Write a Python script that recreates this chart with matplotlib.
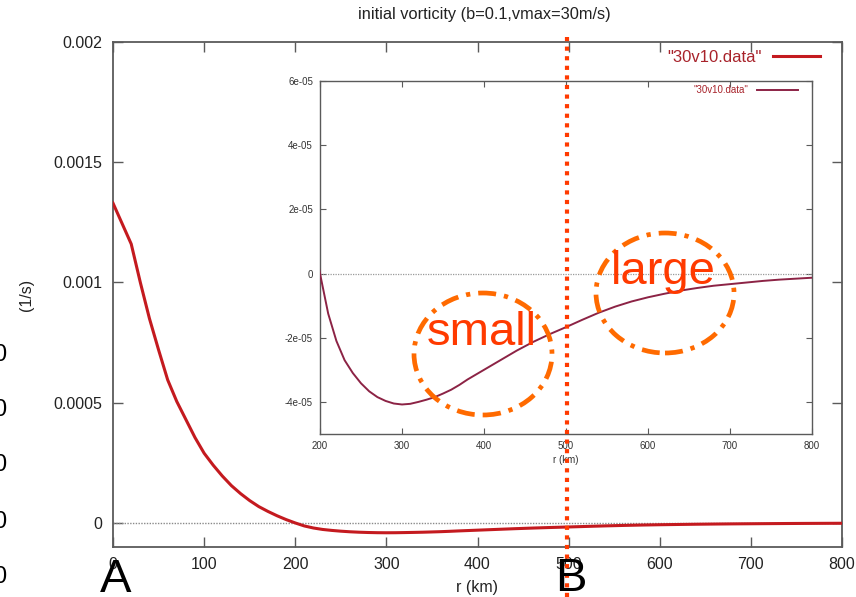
import matplotlib
matplotlib.use("Agg")
import matplotlib.pyplot as plt
import matplotlib.transforms as mtransforms
from matplotlib.lines import Line2D
from matplotlib.patches import Ellipse

plt.rcParams['font.family'] = ['Liberation Sans', 'DejaVu Sans']

# radial vorticity profile of the initial vortex (r in km, vorticity in 1/s)
r_km = [0, 20, 30, 40, 50, 60, 70, 80, 90, 100, 110, 120, 130, 140, 150, 160,
        170, 180, 190, 200, 210, 220, 230, 240, 250, 260, 270, 280, 290, 300,
        310, 320, 330, 340, 350, 360, 370, 380, 390, 400, 420, 440, 460, 480,
        500, 520, 540, 560, 580, 600, 620, 640, 660, 680, 700, 720, 740, 760,
        780, 800]
vort = [1.33e-3, 1.16e-3, 1.0e-3, 8.5e-4, 7.2e-4, 5.95e-4, 5.05e-4, 4.3e-4,
        3.55e-4, 2.9e-4, 2.4e-4, 1.95e-4, 1.55e-4, 1.22e-4, 9.3e-5, 6.8e-5,
        4.8e-5, 3.0e-5, 1.4e-5, 0.0, -1.25e-5, -2.1e-5, -2.7e-5, -3.1e-5,
        -3.42e-5, -3.67e-5, -3.85e-5, -3.97e-5, -4.05e-5, -4.08e-5, -4.06e-5,
        -4.0e-5, -3.93e-5, -3.85e-5, -3.74e-5, -3.62e-5, -3.47e-5, -3.3e-5,
        -3.15e-5, -3.0e-5, -2.7e-5, -2.4e-5, -2.13e-5, -1.89e-5, -1.67e-5,
        -1.44e-5, -1.22e-5, -1.03e-5, -8.7e-6, -7.4e-6, -6.3e-6, -5.3e-6,
        -4.5e-6, -3.8e-6, -3.3e-6, -2.8e-6, -2.3e-6, -1.9e-6, -1.6e-6, -1.3e-6]

main_xticks = [0, 100, 200, 300, 400, 500, 600, 700, 800]
main_yticks = [0, 0.0005, 0.001, 0.0015, 0.002]
main_ylabels = ["0", "0.0005", "0.001", "0.0015", "0.002"]
inset_xticks = [200, 300, 400, 500, 600, 700, 800]
inset_yticks = [-4e-5, -2e-5, 0, 2e-5, 4e-5, 6e-5]
inset_ylabels = ["-4e-05", "-2e-05", "0", "2e-05", "4e-05", "6e-05"]
series_name = '"30v10.data"'
split_r = 500

W, H = 856, 597
fig = plt.figure(figsize=(W / 100, H / 100), dpi=100)


def box(x0, y0, x1, y1):
    return [x0 / W, 1 - y1 / H, (x1 - x0) / W, (y1 - y0) / H]


frame = "#5a5a5a"
main_red = "#c41a1f"
inset_red = "#8c2345"
mark = "#ff3a00"
ring = "#ff6a00"

# ---- main panel ----
ax = fig.add_axes(box(113, 42, 842, 547))
ax.plot(r_km, vort, color=main_red, lw=2.2, zorder=3)
ax.axhline(0, color="#8a8a8a", lw=1.0, ls=(0, (1, 1)), zorder=2)
ax.set_xlim(0, 800)
ax.set_ylim(-0.0001, 0.002)
ax.set_xticks(main_xticks)
ax.set_yticks(main_yticks)
ax.set_yticklabels(main_ylabels)
ax.tick_params(direction="in", length=7, width=1, color=frame,
               top=True, right=True, labelsize=11.5, pad=8, labelcolor="#222222")
ax.tick_params(axis="x", pad=7)
for s in ax.spines.values():
    s.set_color(frame)
    s.set_linewidth(1.3)
ax.set_xlabel("r (km)", fontsize=11.5, color="#222222", labelpad=6)
ax.set_ylabel("(1/s)", fontsize=11.5, color="#222222", labelpad=14)
fig.text(484 / W, 1 - 14 / H, "initial vorticity (b=0.1,vmax=30m/s)",
         fontsize=11.8, color="#222222", ha="center", va="center")
leg = ax.legend([ax.lines[0]], [series_name], loc="upper right",
                bbox_to_anchor=(820 / W, 1 - 50 / H),
                bbox_transform=fig.transFigure, frameon=False,
                markerfirst=False, fontsize=12, handlelength=2.8,
                handletextpad=0.7, borderpad=0, borderaxespad=0)
for t in leg.get_texts():
    t.set_color("#a8232b")

# ---- inset panel ----
axi = fig.add_axes(box(320, 81, 812, 434))
axi.plot(r_km, vort, color=inset_red, lw=1.4, zorder=3)
axi.axhline(0, color="#9a9a9a", lw=0.9, ls=(0, (1, 1)), zorder=2)
axi.set_xlim(200, 800)
axi.set_ylim(-5e-5, 6e-5)
axi.set_xticks(inset_xticks)
axi.set_yticks(inset_yticks)
axi.set_yticklabels(inset_ylabels)
axi.tick_params(direction="in", length=4, width=0.8, color=frame,
                top=True, right=True, labelsize=7, pad=5, labelcolor="#333333")
for s in axi.spines.values():
    s.set_color(frame)
    s.set_linewidth(1.0)
axi.set_xlabel("r (km)", fontsize=7, color="#333333", labelpad=3)
legi = axi.legend([axi.lines[0]], [series_name], loc="upper right",
                  bbox_to_anchor=(798 / W, 1 - 85 / H),
                  bbox_transform=fig.transFigure, frameon=False,
                  markerfirst=False, fontsize=7, handlelength=4.2,
                  handletextpad=0.9, borderpad=0, borderaxespad=0)
for t in legi.get_texts():
    t.set_color("#a8232b")

# ---- dividing line at r = 500 km, drawn over both panels ----
trans = mtransforms.blended_transform_factory(ax.transData, fig.transFigure)
divider = Line2D([split_r - 2, split_r - 2], [1 - 37 / H, 0], transform=trans,
                 color=mark, lw=3.0, ls=(0, (1, 1.3)), zorder=10)
fig.add_artist(divider)

# ---- highlighted regions ----
for cx, cy, w, h in [(483, 354, 138, 122), (665, 293, 138, 120)]:
    e = Ellipse((cx / W, 1 - cy / H), w / W, h / H, transform=fig.transFigure,
                fill=False, edgecolor=ring, lw=3.4,
                ls=(0, (3.8, 1.7, 0.9, 1.7)), zorder=11)
    fig.add_artist(e)
fig.text(482 / W, 1 - 333 / H, "small", color=mark, fontsize=34,
         ha="center", va="center", zorder=12)
fig.text(663 / W, 1 - 272 / H, "large", color=mark, fontsize=34,
         ha="center", va="center", zorder=12)

# ---- panel letters ----
fig.text(116 / W, 1 - 592 / H, "A", color="black", fontsize=34,
         ha="center", va="baseline", zorder=12)
fig.text(571 / W, 1 - 591 / H, "B", color="black", fontsize=34,
         ha="center", va="baseline", zorder=12)

# partial digits at the left edge
for yy in [355, 410, 465, 522, 577]:
    fig.text(0 / W, 1 - yy / H, "0", color="black", fontsize=17,
             ha="center", va="center")

fig.savefig("out.png", dpi=100)
